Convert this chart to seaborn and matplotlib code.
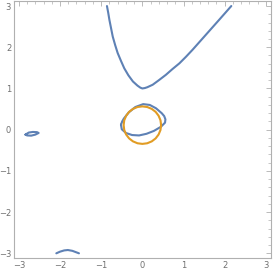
import matplotlib
matplotlib.use("Agg")
import matplotlib.pyplot as plt
from matplotlib.ticker import MultipleLocator
import pandas as pd
import seaborn as sns

# upper open branch
top_x = [-0.86, -0.83, -0.80, -0.76, -0.72, -0.66, -0.60, -0.52, -0.44, -0.34, -0.23, -0.12, -0.05, 0.0,
         0.06, 0.12, 0.25, 0.40, 0.57, 0.73, 0.90, 1.06, 1.22, 1.38, 1.54, 1.70, 1.86, 2.01, 2.16]
top_y = [3.0, 2.84, 2.66, 2.46, 2.26, 2.05, 1.86, 1.67, 1.49, 1.32, 1.17, 1.07, 1.02, 1.0,
         1.01, 1.03, 1.09, 1.20, 1.33, 1.47, 1.61, 1.77, 1.94, 2.12, 2.30, 2.48, 2.66, 2.83, 3.0]

# closed blue loop near the origin
loop_x = [-0.52, -0.49, -0.45, -0.33, -0.17, 0.02, 0.18, 0.33, 0.47, 0.53, 0.56, 0.55, 0.45, 0.28, 0.10,
          -0.08, -0.25, -0.40, -0.50, -0.52]
loop_y = [0.12, 0.20, 0.27, 0.42, 0.55, 0.62, 0.60, 0.52, 0.40, 0.33, 0.25, 0.17, 0.07, -0.03, -0.10,
          -0.14, -0.13, -0.08, 0.01, 0.12]

# small oval on the left
oval_x = [-2.84, -2.80, -2.70, -2.60, -2.52, -2.56, -2.66, -2.76, -2.84]
oval_y = [-0.12, -0.14, -0.145, -0.12, -0.08, -0.06, -0.055, -0.07, -0.12]

# arc at the bottom edge
arc_x = [-2.09, -2.0, -1.9, -1.81, -1.7, -1.62, -1.54]
arc_y = [-3.0, -2.96, -2.93, -2.92, -2.94, -2.97, -3.0]

# orange circle
circ_x = [0.455, 0.440, 0.394, 0.322, 0.228, 0.118, 0.0, -0.118, -0.228, -0.322, -0.394, -0.440,
          -0.455, -0.440, -0.394, -0.322, -0.228, -0.118, 0.0, 0.118, 0.228, 0.322, 0.394, 0.440, 0.455]
circ_y = [0.110, 0.228, 0.338, 0.432, 0.504, 0.550, 0.565, 0.550, 0.504, 0.432, 0.338, 0.228,
          0.110, -0.008, -0.118, -0.212, -0.284, -0.330, -0.345, -0.330, -0.284, -0.212, -0.118, -0.008, 0.110]

blue = "#5e81b5"
orange = "#e19c24"

sns.set_style("white")
fig = plt.figure(figsize=(2.73, 2.73), dpi=100)
ax = fig.add_axes([0.051, 0.054, 0.941, 0.942])

for xs, ys, c in [(top_x, top_y, blue), (loop_x, loop_y, blue), (oval_x, oval_y, blue),
                  (arc_x, arc_y, blue), (circ_x, circ_y, orange)]:
    d = pd.DataFrame({"x": xs, "y": ys})
    sns.lineplot(data=d, x="x", y="y", sort=False, estimator=None, color=c, lw=1.5, ax=ax)

ax.set_xlim(-3.12, 3.12)
ax.set_ylim(-3.12, 3.12)
ax.set_xlabel("")
ax.set_ylabel("")
ax.xaxis.set_major_locator(MultipleLocator(1))
ax.yaxis.set_major_locator(MultipleLocator(1))
ax.xaxis.set_minor_locator(MultipleLocator(0.2))
ax.yaxis.set_minor_locator(MultipleLocator(0.2))
ax.tick_params(which="both", direction="in", top=True, right=True, color="#b0b0b0",
               labelsize=6, labelcolor="#707070", pad=2)
ax.tick_params(which="major", length=3.5, width=0.6)
ax.tick_params(which="minor", length=2, width=0.5)
for s in ax.spines.values():
    s.set_color("#b0b0b0")
    s.set_linewidth(0.8)

fig.savefig("out.png", dpi=100)
